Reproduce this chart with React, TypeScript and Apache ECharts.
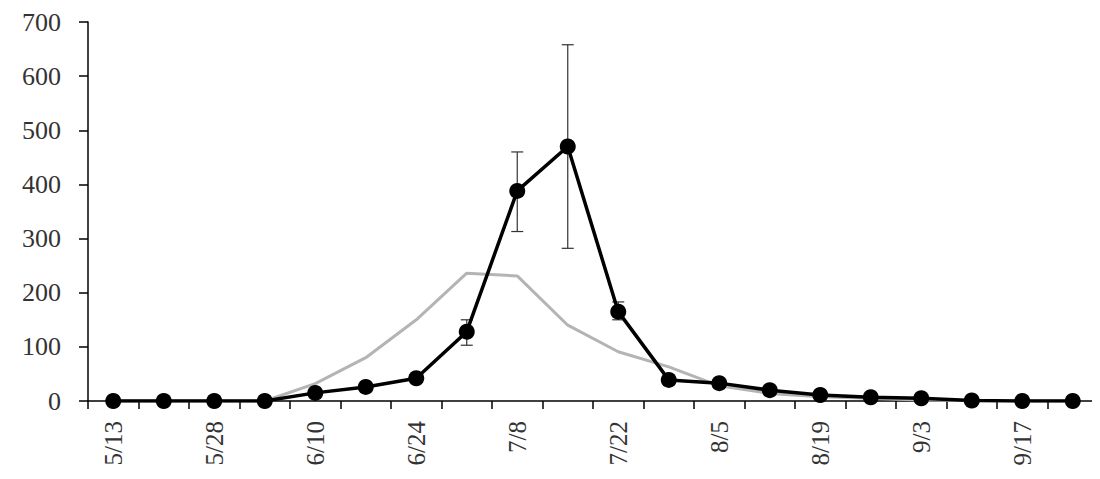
import React, { useEffect, useRef } from "react";
import * as echarts from "echarts";

const categories = ["5/13","5/20","5/28","6/3","6/10","6/17","6/24","7/1","7/8","7/15","7/22","7/29","8/5","8/12","8/19","8/26","9/3","9/10","9/17","9/24"];
const observed = [0,0,0,0,15,26,42,128,388,470,165,39,33,20,11,7,5,1,0,0];
const predicted = [0,0,0,0,32,80,150,236,231,140,91,63,28,14,8,5,2,1,0,0];
const errLow = [null,null,null,null,null,null,null,103,313,282,150,null,null,null,null,null,null,null,null,null];
const errHigh = [null,null,null,null,null,null,null,150,460,658,183,null,null,null,null,null,null,null,null,null];
const yTicks = [0,100,200,300,400,500,600,700];

export default function App() {
  const ref = useRef<HTMLDivElement>(null);
  useEffect(() => {
    const chart = echarts.init(ref.current!, null, { renderer: "svg" });
    const errData = categories
      .map((c, i) => [i, errLow[i], errHigh[i]])
      .filter((d) => d[1] != null);
    chart.setOption({
      animation: false,
      backgroundColor: "#fff",
      grid: { left: 80, right: 2, top: 14, bottom: 70, containLabel: false },
      xAxis: {
        type: "category",
        data: categories,
        boundaryGap: true,
        axisLine: { lineStyle: { color: "#000", width: 1.5 } },
        axisTick: { show: true, interval: 0, length: 8, lineStyle: { color: "#000", width: 1.5 } },
        axisLabel: {
          interval: 1,
          rotate: 90,
          margin: 20,
          fontFamily: "Liberation Serif",
          fontSize: 25,
          color: "#333",
        },
        splitLine: { show: false },
      },
      yAxis: {
        type: "value",
        min: yTicks[0],
        max: yTicks[yTicks.length - 1],
        interval: 100,
        axisLine: { show: true, lineStyle: { color: "#000", width: 1.5 } },
        axisTick: { show: true, length: 9, lineStyle: { color: "#000", width: 1.5 } },
        axisLabel: {
          margin: 27,
          fontFamily: "Liberation Serif",
          fontSize: 26,
          color: "#333",
        },
        splitLine: { show: false },
      },
      series: [
        {
          type: "line",
          data: predicted,
          symbol: "none",
          lineStyle: { color: "#b4b4b4", width: 3 },
          z: 2,
        },
        {
          type: "custom",
          data: errData,
          z: 3,
          renderItem: (params: any, api: any) => {
            const x = api.value(0);
            const lo = api.coord([x, api.value(1)]);
            const hi = api.coord([x, api.value(2)]);
            const w = 6;
            const style = { stroke: "#333", lineWidth: 1.2 };
            return {
              type: "group",
              children: [
                { type: "line", shape: { x1: lo[0], y1: lo[1], x2: hi[0], y2: hi[1] }, style },
                { type: "line", shape: { x1: lo[0] - w, y1: lo[1], x2: lo[0] + w, y2: lo[1] }, style },
                { type: "line", shape: { x1: hi[0] - w, y1: hi[1], x2: hi[0] + w, y2: hi[1] }, style },
              ],
            };
          },
        },
        {
          type: "line",
          data: observed,
          symbol: "circle",
          symbolSize: 16,
          itemStyle: { color: "#000" },
          lineStyle: { color: "#000", width: 3.5 },
          z: 4,
        },
      ],
    });
    return () => chart.dispose();
  }, []);
  return <div ref={ref} style={{ width: 1092, height: 463 }} />;
}
